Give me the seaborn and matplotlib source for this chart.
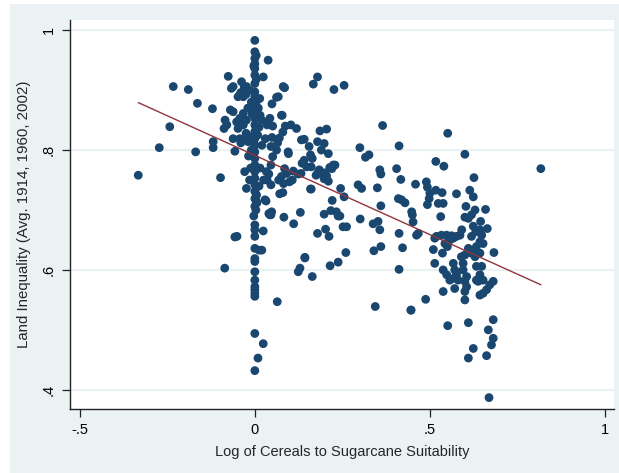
import numpy as np
import pandas as pd
import seaborn as sns
import matplotlib
matplotlib.use("Agg")
import matplotlib.pyplot as plt
from matplotlib.patches import Rectangle

# ---------------- data ----------------
x_left = [-0.333, -0.273, -0.243, -0.233, -0.190, -0.169, -0.164, -0.121, -0.119, -0.119,
          -0.098, -0.086, -0.076, -0.067, -0.085, -0.080, -0.088, -0.070, -0.057, -0.057,
          -0.062, -0.043, -0.033, -0.024, -0.033, -0.043, -0.052, -0.033, -0.024, -0.048,
          -0.062, -0.043, -0.033, -0.019, -0.029, -0.024, -0.051, -0.048, -0.040, -0.038,
          -0.062, -0.030, -0.025, -0.015, -0.010, -0.020, -0.015, -0.008, -0.010, -0.018,
          -0.012, -0.015, -0.025, -0.040]
y_left = [0.758, 0.804, 0.839, 0.906, 0.901, 0.797, 0.878, 0.869, 0.814, 0.804,
          0.754, 0.603, 0.923, 0.903, 0.850, 0.842, 0.836, 0.867, 0.798, 0.655,
          0.906, 0.892, 0.889, 0.906, 0.861, 0.853, 0.847, 0.842, 0.850, 0.836,
          0.819, 0.819, 0.817, 0.814, 0.764, 0.736, 0.656, 0.889, 0.896, 0.914,
          0.864, 0.905, 0.893, 0.900, 0.880, 0.870, 0.822, 0.860, 0.800, 0.790,
          0.770, 0.750, 0.828, 0.812]

y_column = [0.983, 0.964, 0.953, 0.944, 0.936, 0.925, 0.911, 0.897, 0.889, 0.875,
            0.864, 0.853, 0.842, 0.831, 0.819, 0.808, 0.797, 0.786, 0.775, 0.764,
            0.753, 0.742, 0.731, 0.719, 0.706, 0.675, 0.667, 0.656, 0.636, 0.619,
            0.614, 0.597, 0.583, 0.572, 0.567, 0.561, 0.556, 0.494, 0.432, 0.715,
            0.700, 0.690, 0.725, 0.958, 0.940, 0.918, 0.882, 0.858, 0.836, 0.825,
            0.770, 0.738, 0.712]
x_column = [0.000, 0.000, 0.000, 0.000, 0.000, 0.000, 0.000, 0.000, 0.000, 0.000,
            0.000, 0.000, 0.000, 0.000, 0.000, 0.000, 0.000, 0.000, 0.000, 0.000,
            0.000, 0.000, 0.000, 0.000, 0.000, 0.000, 0.000, 0.000, 0.000, 0.000,
            0.000, 0.000, 0.000, 0.000, 0.000, 0.000, 0.000, 0.000, 0.000, 0.004,
            0.003, -0.003, 0.005, 0.004, -0.003, 0.004, 0.005, 0.006, 0.005, 0.008,
            0.006, 0.005, 0.006]

x_near = [0.038, 0.024, 0.014, 0.010, 0.015, 0.020, 0.012, 0.049, 0.043, 0.051,
          0.035, 0.049, 0.030, 0.046, 0.020, 0.051, 0.046, 0.033, 0.029, 0.032,
          0.048, 0.043, 0.024, 0.012, 0.020, 0.064, 0.024, 0.009, 0.040, 0.046,
          0.035, 0.046, 0.040, 0.015, 0.025, 0.012, 0.062, 0.078, 0.085, 0.067,
          0.081]
y_near = [0.950, 0.922, 0.886, 0.870, 0.858, 0.850, 0.838, 0.877, 0.853, 0.840,
          0.842, 0.821, 0.819, 0.806, 0.808, 0.789, 0.775, 0.764, 0.717, 0.715,
          0.697, 0.692, 0.665, 0.633, 0.633, 0.547, 0.477, 0.453, 0.694, 0.742,
          0.750, 0.692, 0.760, 0.770, 0.750, 0.740, 0.888, 0.858, 0.904, 0.889,
          0.906]

x_mid1 = [0.076, 0.103, 0.119, 0.133, 0.087, 0.080, 0.070, 0.095, 0.062, 0.068,
          0.076, 0.082, 0.080, 0.085, 0.091, 0.096, 0.099, 0.107, 0.071, 0.083,
          0.111, 0.130, 0.124, 0.129, 0.143, 0.132, 0.135, 0.141, 0.148, 0.141,
          0.155, 0.159, 0.164, 0.161, 0.161, 0.164, 0.143, 0.124, 0.110, 0.065]
y_mid1 = [0.858, 0.842, 0.836, 0.817, 0.840, 0.830, 0.820, 0.797, 0.800, 0.750,
          0.756, 0.744, 0.729, 0.769, 0.761, 0.794, 0.747, 0.750, 0.727, 0.688,
          0.677, 0.696, 0.597, 0.603, 0.621, 0.761, 0.778, 0.818, 0.772, 0.783,
          0.806, 0.792, 0.786, 0.772, 0.735, 0.589, 0.620, 0.760, 0.765, 0.812]

x_mid2 = [0.179, 0.167, 0.226, 0.255, 0.186, 0.205, 0.179, 0.198, 0.190, 0.210,
          0.214, 0.224, 0.229, 0.200, 0.198, 0.205, 0.210, 0.181, 0.175, 0.159,
          0.245, 0.255, 0.221, 0.198, 0.217, 0.233, 0.238, 0.243, 0.252, 0.262,
          0.179, 0.202, 0.212, 0.260, 0.238, 0.215, 0.184, 0.195, 0.220]
y_mid2 = [0.922, 0.910, 0.901, 0.908, 0.832, 0.835, 0.814, 0.811, 0.800, 0.794,
          0.771, 0.775, 0.775, 0.762, 0.752, 0.757, 0.748, 0.763, 0.758, 0.735,
          0.736, 0.722, 0.716, 0.693, 0.699, 0.697, 0.690, 0.690, 0.672, 0.672,
          0.661, 0.668, 0.656, 0.629, 0.613, 0.607, 0.767, 0.761, 0.769]

x_mid3 = [0.300, 0.316, 0.326, 0.365, 0.412, 0.357, 0.360, 0.405, 0.417, 0.295,
          0.305, 0.350, 0.410, 0.419, 0.429, 0.360, 0.301, 0.338, 0.352, 0.357,
          0.412, 0.448, 0.450, 0.452, 0.340, 0.360, 0.422, 0.412, 0.344, 0.446]
y_mid3 = [0.804, 0.788, 0.792, 0.841, 0.807, 0.767, 0.760, 0.769, 0.751, 0.742,
          0.736, 0.737, 0.719, 0.717, 0.712, 0.707, 0.685, 0.677, 0.681, 0.667,
          0.661, 0.697, 0.692, 0.680, 0.632, 0.639, 0.637, 0.601, 0.539, 0.533]

x_right = [0.551, 0.600, 0.517, 0.540, 0.626, 0.459, 0.490, 0.493, 0.517, 0.535,
           0.576, 0.614, 0.624, 0.498, 0.493, 0.524, 0.538, 0.603, 0.659, 0.531,
           0.462, 0.467, 0.629, 0.619, 0.600, 0.610, 0.645, 0.664, 0.643, 0.624,
           0.631, 0.619, 0.648, 0.643, 0.652, 0.633, 0.624, 0.619, 0.643, 0.629,
           0.600, 0.610, 0.591, 0.586, 0.576, 0.562, 0.548, 0.533, 0.519, 0.557,
           0.543, 0.567, 0.514, 0.510, 0.536, 0.550, 0.595, 0.590, 0.683, 0.514,
           0.538, 0.548, 0.557, 0.567, 0.571, 0.576, 0.567, 0.581, 0.538, 0.571,
           0.595, 0.605, 0.600, 0.605, 0.600, 0.600, 0.633, 0.648, 0.643, 0.633,
           0.652, 0.638, 0.671, 0.681, 0.662, 0.652, 0.643, 0.488, 0.446, 0.551,
           0.610, 0.681, 0.667, 0.681, 0.676, 0.624, 0.662, 0.610, 0.669, 0.817,
           0.500]
y_right = [0.828, 0.793, 0.781, 0.773, 0.754, 0.743, 0.747, 0.738, 0.733, 0.729,
           0.727, 0.733, 0.722, 0.719, 0.709, 0.711, 0.711, 0.706, 0.701, 0.689,
           0.658, 0.661, 0.700, 0.692, 0.688, 0.686, 0.681, 0.669, 0.667, 0.673,
           0.664, 0.656, 0.658, 0.647, 0.644, 0.639, 0.633, 0.628, 0.628, 0.622,
           0.625, 0.636, 0.667, 0.658, 0.656, 0.657, 0.658, 0.658, 0.656, 0.650,
           0.644, 0.653, 0.653, 0.634, 0.628, 0.639, 0.611, 0.622, 0.629, 0.611,
           0.600, 0.592, 0.583, 0.611, 0.600, 0.592, 0.586, 0.583, 0.564, 0.569,
           0.600, 0.589, 0.581, 0.572, 0.564, 0.550, 0.606, 0.606, 0.592, 0.583,
           0.583, 0.581, 0.575, 0.581, 0.567, 0.561, 0.558, 0.551, 0.533, 0.507,
           0.512, 0.517, 0.500, 0.486, 0.475, 0.469, 0.457, 0.453, 0.387, 0.769,
           0.728]

x_ticks = [-0.5, 0, 0.5, 1]
x_tick_labels = ["-.5", "0", ".5", "1"]
y_ticks = [0.4, 0.6, 0.8, 1.0]
y_tick_labels = [".4", ".6", ".8", "1"]
x_title = "Log of Cereals to Sugarcane Suitability"
y_title = "Land Inequality (Avg. 1914, 1960, 2002)"

df = pd.DataFrame({
    "x": x_left + x_column + x_near + x_mid1 + x_mid2 + x_mid3 + x_right,
    "y": y_left + y_column + y_near + y_mid1 + y_mid2 + y_mid3 + y_right,
})

# ---------------- style ----------------
BG = "#eaf2f3"
NAVY = "#1a476f"
MAROON = "#90353b"

sns.set_style("white")
plt.rcParams["font.family"] = ["Liberation Sans", "DejaVu Sans"]

fig = plt.figure(figsize=(6.19, 4.73), dpi=100)
fig.patch.set_facecolor("white")
fig.patches.append(Rectangle((10 / 619, 0), 1 - 10 / 619, 1 - 4 / 473,
                             transform=fig.transFigure, facecolor=BG,
                             edgecolor="none", zorder=-10))

ax = fig.add_axes([70 / 619, 1 - 409 / 473, 544 / 619, 389 / 473])
ax.set_facecolor("white")

sns.scatterplot(data=df, x="x", y="y", ax=ax, color=NAVY, s=40,
                edgecolor="none", linewidth=0, zorder=3)
sns.regplot(data=df, x="x", y="y", ax=ax, scatter=False, ci=None,
            line_kws=dict(color=MAROON, lw=1.0, zorder=4))

ax.set_xlim(-0.528, 1.026)
ax.set_ylim(0.368, 1.017)
ax.set_xticks(x_ticks)
ax.set_xticklabels(x_tick_labels)
ax.set_yticks(y_ticks)
ax.set_yticklabels(y_tick_labels, rotation=90, va="center")
ax.yaxis.grid(True, color=BG, lw=1.6, zorder=0)
ax.xaxis.grid(False)
ax.set_axisbelow(True)

for s in ["top", "right"]:
    ax.spines[s].set_visible(False)
for s in ["left", "bottom"]:
    ax.spines[s].set_color("#222222")
    ax.spines[s].set_linewidth(1.0)

ax.tick_params(axis="both", direction="out", length=6, width=0.9,
               color="#222222", labelsize=10.5, labelcolor="black",
               left=True, bottom=True, pad=4)

ax.set_xlabel(x_title, fontsize=10.5, labelpad=6)
ax.set_ylabel(y_title, fontsize=10.8, labelpad=8)

fig.savefig("out.png", dpi=100, facecolor=fig.get_facecolor())
